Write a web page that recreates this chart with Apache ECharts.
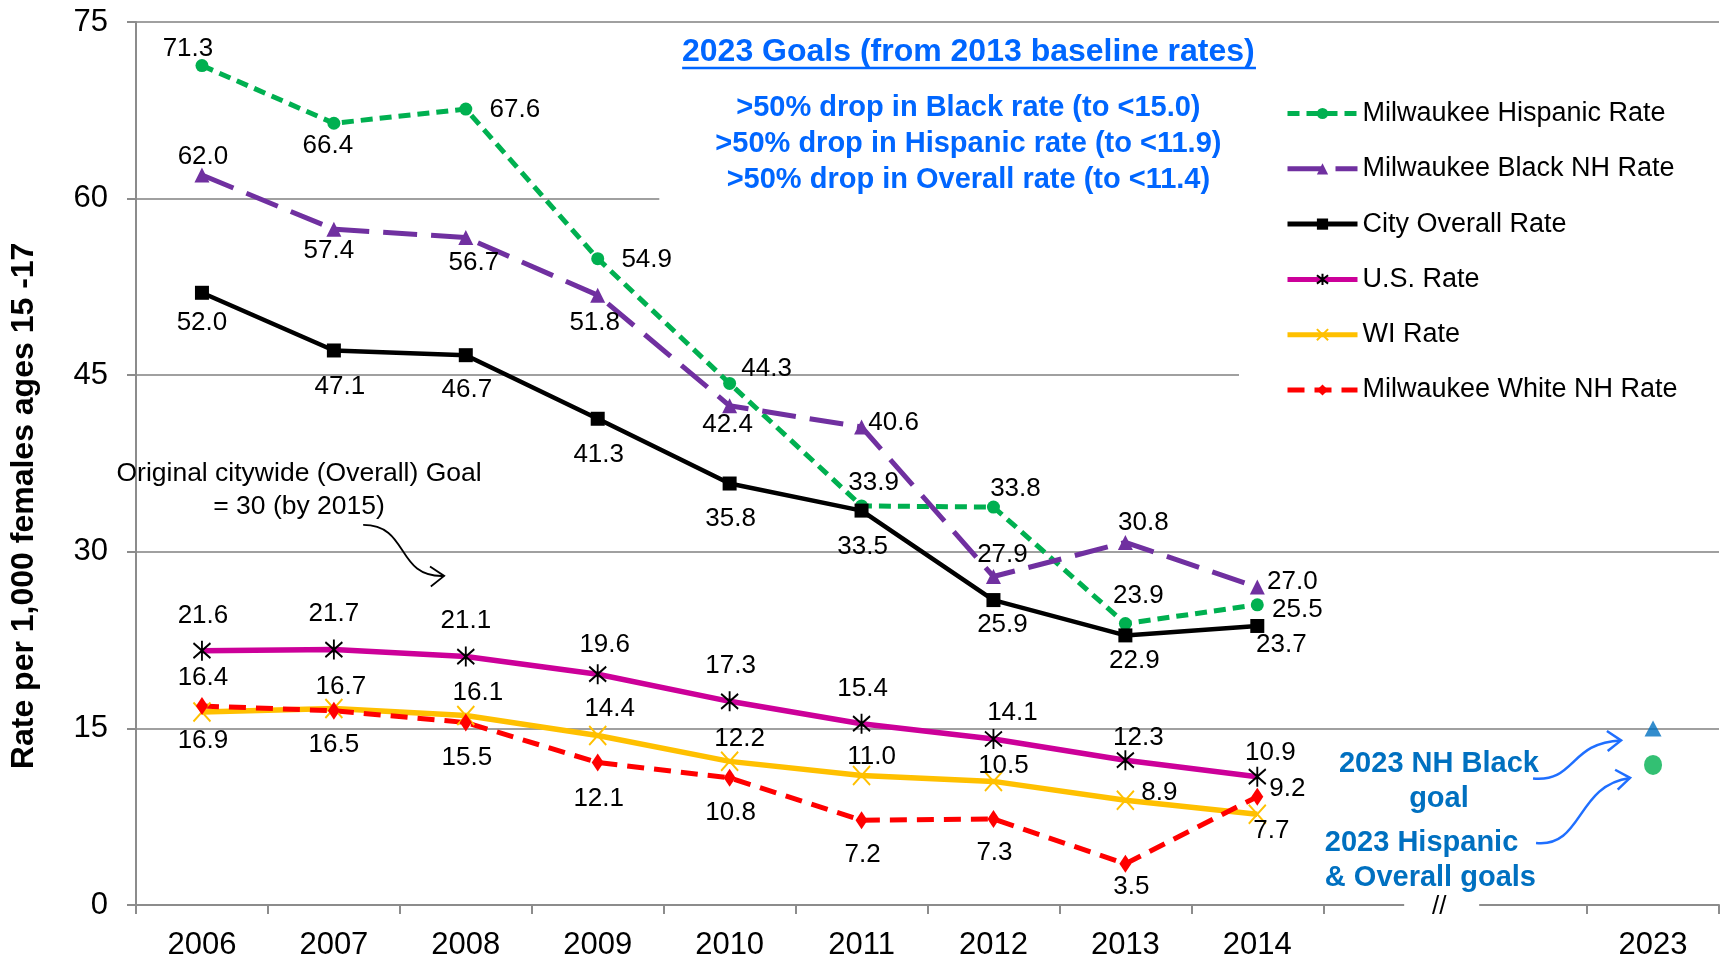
<!DOCTYPE html>
<html>
<head>
<meta charset="utf-8">
<title>Teen birth rate, Milwaukee</title>
<script src="https://cdn.jsdelivr.net/npm/echarts@6/dist/echarts.min.js"></script>
<style>
  html, body { margin: 0; padding: 0; background: #fff; }
  #chart { width: 1722px; height: 961px; }
</style>
</head>
<body>
<div id="chart"></div>
<script>
// ---- data ----
const years = ['2006', '2007', '2008', '2009', '2010', '2011', '2012', '2013', '2014', ' ', '  ', '2023'];
const yTicks = { min: 0, max: 75, step: 15 };

const hispanicRate   = [71.3, 66.4, 67.6, 54.9, 44.3, 33.9, 33.8, 23.9, 25.5];
const blackNhRate    = [62.0, 57.4, 56.7, 51.8, 42.4, 40.6, 27.9, 30.8, 27.0];
const cityRate       = [52.0, 47.1, 46.7, 41.3, 35.8, 33.5, 25.9, 22.9, 23.7];
const usRate         = [21.6, 21.7, 21.1, 19.6, 17.3, 15.4, 14.1, 12.3, 10.9];
const wiRate         = [16.4, 16.7, 16.1, 14.4, 12.2, 11.0, 10.5, 8.9, 7.7];
const whiteNhRate    = [16.9, 16.5, 15.5, 12.1, 10.8, 7.2, 7.3, 3.5, 9.2];
const blackGoal2023    = 15.0;
const hispanicGoal2023 = 11.9;

// label placement (offset of label centre from the point, px)
const hispanicLabelOff = [[-14,-17],[-6,23],[49,1],[49,1],[37,-15],[12,-23],[22,-18],[13,-28],[40,5]];
const blackLabelOff    = [[1,-18],[-5,22],[8,25],[-3,28],[-2,19],[32,-4],[9,-22],[18,-20],[35,-5]];
const cityLabelOff     = [[0,30],[6,36],[1,35],[1,36],[1,35],[1,36],[9,25],[9,25],[24,19]];
const usLabelOff       = [[1,-35],[0,-36],[0,-36],[7,-29],[1,-35],[1,-35],[19,-26],[13,-22],[13,-24]];
const wiLabelOff       = [[1,-34],[7,-22],[12,-23],[12,-27],[10,-23],[10,-19],[10,-16],[34,-7],[14,16]];
const whiteLabelOff    = [[1,35],[0,34],[1,35],[1,36],[1,35],[1,35],[1,34],[6,23],[30,-8]];

const font = '"Liberation Sans", Arial, Helvetica, sans-serif';
const chart = echarts.init(document.getElementById('chart'));

function withLabels(values, offs) {
  return values.map((v, k) => ({ value: v, label: { offset: offs[k] } }));
}
const labelBase = {
  show: true, position: 'inside', fontSize: 26, color: '#000', fontFamily: font,
  formatter: (p) => Number(p.value).toFixed(1)
};
const asterisk = 'path://M0,2L12,14M12,2L0,14M6,0L6,16';
const cross = 'path://M0,0L12,14M12,0L0,14';

const option = {
  animation: false,
  backgroundColor: '#fff',
  textStyle: { fontFamily: font },
  grid: { left: 136, right: 3, top: 22, bottom: 56 },
  legend: {
    orient: 'vertical',
    left: 1239,
    top: 74,
    padding: [26, 60, 14, 46],
    backgroundColor: '#fff',
    itemWidth: 70,
    itemHeight: 14,
    itemGap: 28.3,
    lineStyle: { width: 5 },
    textStyle: { fontSize: 27, color: '#000', fontFamily: font },
    data: ['Milwaukee Hispanic Rate', 'Milwaukee Black NH Rate', 'City Overall Rate',
           'U.S. Rate', 'WI Rate', 'Milwaukee White NH Rate']
  },
  xAxis: {
    type: 'category',
    data: years,
    boundaryGap: true,
    axisLine: { lineStyle: { color: '#8c8c8c', width: 2 } },
    axisTick: { show: true, interval: 0, length: 9, lineStyle: { color: '#8c8c8c', width: 2 } },
    axisLabel: { interval: 0, fontSize: 31, color: '#000', margin: 25, fontFamily: font },
    splitLine: { show: false }
  },
  yAxis: {
    type: 'value',
    min: yTicks.min,
    max: yTicks.max,
    interval: yTicks.step,
    axisLine: { show: true, lineStyle: { color: '#8c8c8c', width: 2 } },
    axisTick: { show: true, length: 9, lineStyle: { color: '#8c8c8c', width: 2 } },
    axisLabel: { fontSize: 31, color: '#000', margin: 28, fontFamily: font },
    splitLine: { show: true, lineStyle: { color: '#a0a0a0', width: 2 } }
  },
  series: [
    {
      name: 'Milwaukee Hispanic Rate', type: 'line',
      data: withLabels(hispanicRate, hispanicLabelOff),
      symbol: 'circle', symbolSize: 13,
      lineStyle: { color: '#00B050', width: 5, type: [12, 7] },
      itemStyle: { color: '#00B050' },
      label: labelBase
    },
    {
      name: 'Milwaukee Black NH Rate', type: 'line',
      data: withLabels(blackNhRate, blackLabelOff),
      symbol: 'triangle', symbolSize: 15,
      lineStyle: { color: '#7030A0', width: 5, type: [34, 14] },
      itemStyle: { color: '#7030A0' },
      label: labelBase
    },
    {
      name: 'City Overall Rate', type: 'line',
      data: withLabels(cityRate, cityLabelOff),
      symbol: 'rect', symbolSize: 14,
      lineStyle: { color: '#000', width: 4.5 },
      itemStyle: { color: '#000' },
      label: labelBase
    },
    {
      name: 'U.S. Rate', type: 'line',
      data: withLabels(usRate, usLabelOff),
      symbol: asterisk, symbolSize: [17, 20],
      lineStyle: { color: '#CC0099', width: 5.5 },
      itemStyle: { color: 'rgba(0,0,0,0)', borderColor: '#000', borderWidth: 2 },
      label: labelBase
    },
    {
      name: 'WI Rate', type: 'line',
      data: withLabels(wiRate, wiLabelOff),
      symbol: cross, symbolSize: [17, 19],
      lineStyle: { color: '#FFC000', width: 5.5 },
      itemStyle: { color: 'rgba(0,0,0,0)', borderColor: '#FFC000', borderWidth: 2 },
      label: labelBase
    },
    {
      name: 'Milwaukee White NH Rate', type: 'line',
      data: withLabels(whiteNhRate, whiteLabelOff),
      symbol: 'diamond', symbolSize: [12, 18],
      lineStyle: { color: '#FF0000', width: 5, type: [17, 10] },
      itemStyle: { color: '#FF0000' },
      label: labelBase
    },
    {
      name: 'NH Black goal', type: 'scatter',
      data: [[11, blackGoal2023]],
      symbol: 'triangle', symbolSize: [17, 16],
      itemStyle: { color: '#0070C0' }
    },
    {
      name: 'Hispanic goal', type: 'scatter',
      data: [[11, hispanicGoal2023]],
      symbol: 'circle', symbolSize: [18, 20],
      itemStyle: { color: '#00B050' }
    }
  ]
};
chart.setOption(option);

// ---- annotations, anchored in data space ----
function px(i, v) {
  const a = chart.convertToPixel({ xAxisIndex: 0, yAxisIndex: 0 }, [0, v]);
  const b = chart.convertToPixel({ xAxisIndex: 0, yAxisIndex: 0 }, [1, v]);
  return [a[0] + i * (b[0] - a[0]), a[1]];
}
function arrowHead(tip, from, len, color, w) {
  const ang = Math.atan2(tip[1] - from[1], tip[0] - from[0]);
  const a1 = ang + Math.PI * 0.8, a2 = ang - Math.PI * 0.8;
  return {
    type: 'polyline', z: 20,
    shape: { points: [[tip[0] + len * Math.cos(a1), tip[1] + len * Math.sin(a1)], tip,
                      [tip[0] + len * Math.cos(a2), tip[1] + len * Math.sin(a2)]] },
    style: { stroke: color, lineWidth: w, fill: null }
  };
}
function curve(p0, c1, c2, p1, color, w) {
  return {
    type: 'bezierCurve', z: 20,
    shape: { x1: p0[0], y1: p0[1], cpx1: c1[0], cpy1: c1[1], cpx2: c2[0], cpy2: c2[1], x2: p1[0], y2: p1[1] },
    style: { stroke: color, lineWidth: w, fill: null }
  };
}
function add(p, dx, dy) { return [p[0] + dx, p[1] + dy]; }

const boxTL = px(3.467, 74.3), boxBR = px(8.03, 58.9);
const goalsX = px(5.81, 0)[0];
const ulL = px(3.64, 71.1), ulR = px(7.99, 71.1);
const axisBreak = px(9.5, 0);
const yAxisX = px(-0.5, 0)[0];

const triP = px(11, blackGoal2023), dotP = px(11, hispanicGoal2023);
const a1s = add(triP, -120, 50), a1e = add(triP, -32, 12);
const a1c1 = add(triP, -77, 54), a1c2 = add(triP, -84, 14);
const a2s = add(dotP, -117, 78), a2e = add(dotP, -23, 13);
const a2c1 = add(dotP, -70, 83), a2c2 = add(dotP, -77, 20);

const noteC = px(0.736, 35.2);
const k0 = px(1.222, 32.28), k1 = px(1.836, 27.95);
const kc1 = [k0[0] + 47, k0[1]], kc2 = [k1[0] - 49, k1[1] + 2];

const blueText = '#0066FF';
const goalText = '#0070C0';

chart.setOption({
  graphic: [
    { type: 'rect', z: 5, shape: { x: boxTL[0], y: boxTL[1], width: boxBR[0] - boxTL[0], height: boxBR[1] - boxTL[1] },
      style: { fill: '#fff' } },
    { type: 'text', z: 20, x: goalsX, y: px(0, 72.4)[1],
      style: { text: '2023 Goals (from 2013 baseline rates)', align: 'center', verticalAlign: 'middle',
               fontSize: 32, fontWeight: 'bold', fontFamily: font, fill: blueText } },
    { type: 'line', z: 20, shape: { x1: ulL[0], y1: ulL[1], x2: ulR[0], y2: ulR[1] },
      style: { stroke: blueText, lineWidth: 2.5 } },
    { type: 'text', z: 20, x: goalsX, y: px(0, 64.64)[1],
      style: { text: '>50% drop in Black rate (to <15.0)\n>50% drop in Hispanic rate (to <11.9)\n>50% drop in Overall rate (to <11.4)',
               align: 'center', verticalAlign: 'middle', lineHeight: 36,
               fontSize: 29, fontWeight: 'bold', fontFamily: font, fill: blueText } },
    // y axis title
    { type: 'text', z: 20, x: yAxisX - 112, y: px(0, 33.9)[1], rotation: Math.PI / 2,
      style: { text: 'Rate per 1,000 females ages 15 -17', align: 'center', verticalAlign: 'middle',
               fontSize: 32, fontWeight: 'bold', fontFamily: font, fill: '#000' } },
    // axis break
    { type: 'rect', z: 20, shape: { x: axisBreak[0] - 51, y: axisBreak[1] - 6, width: 75, height: 18 },
      style: { fill: '#fff' } },
    { type: 'text', z: 21, x: axisBreak[0] - 16, y: axisBreak[1] + 2,
      style: { text: '//', align: 'center', verticalAlign: 'middle', fontSize: 26, fontFamily: font, fill: '#000' } },
    // original goal note
    { type: 'text', z: 20, x: noteC[0], y: noteC[1],
      style: { text: 'Original citywide (Overall) Goal\n= 30 (by 2015)', align: 'center', verticalAlign: 'middle',
               lineHeight: 33, fontSize: 26.5, fontFamily: font, fill: '#000' } },
    curve(k0, kc1, kc2, k1, '#000', 1.8),
    arrowHead(k1, kc2, 17, '#000', 1.8),
    // 2023 goal notes
    { type: 'text', z: 20, x: px(9.377, 0)[0], y: px(0, 10.49)[1],
      style: { text: '2023 NH Black\ngoal', align: 'center', verticalAlign: 'middle', lineHeight: 35,
               fontSize: 29, fontWeight: 'bold', fontFamily: font, fill: goalText } },
    { type: 'text', z: 20, x: px(8.512, 0)[0], y: px(0, 3.78)[1],
      style: { text: '2023 Hispanic\n& Overall goals', align: 'left', verticalAlign: 'middle', lineHeight: 35,
               fontSize: 29, fontWeight: 'bold', fontFamily: font, fill: goalText } },
    curve(a1s, a1c1, a1c2, a1e, '#1F6FFF', 2.5),
    arrowHead(a1e, a1c2, 17, '#1F6FFF', 2.5),
    curve(a2s, a2c1, a2c2, a2e, '#1F6FFF', 2.5),
    arrowHead(a2e, a2c2, 17, '#1F6FFF', 2.5)
  ]
});
</script>
</body>
</html>
